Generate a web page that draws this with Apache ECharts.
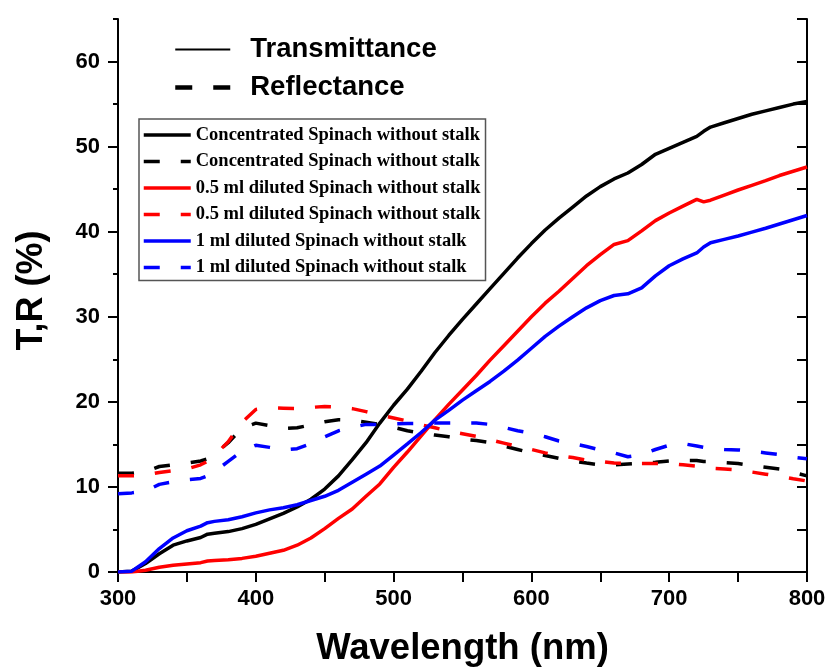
<!DOCTYPE html>
<html>
<head>
<meta charset="utf-8">
<script src="https://cdn.jsdelivr.net/npm/echarts@6/dist/echarts.min.js"></script>
<style>
  html, body { margin: 0; padding: 0; background: #fff; }
  #chart { width: 829px; height: 668px; }
</style>
</head>
<body>
<div id="chart"></div>
<script>
// Wavelength grid (nm)
const wavelength = [300, 310, 320, 330, 340, 350, 360, 365, 370, 380, 390, 400, 410, 420, 430, 440, 450, 460, 470, 480,
  490, 500, 510, 520, 530, 540, 550, 560, 570, 580, 590, 600, 610, 620, 630, 640, 650, 660, 670, 680,
  690, 700, 710, 720, 725, 730, 740, 750, 760, 770, 780, 790, 800];

// Transmittance (%)
const concT = [0, 0.1, 1.0, 2.15, 3.15, 3.65, 4.05, 4.45, 4.55, 4.75, 5.1, 5.6, 6.25, 6.9, 7.65, 8.55, 9.75, 11.3, 13.2, 15.2,
  17.5, 19.6, 21.5, 23.6, 25.8, 27.8, 29.7, 31.5, 33.3, 35.1, 36.9, 38.6, 40.2, 41.6, 42.9, 44.2, 45.3, 46.2, 46.9, 47.9,
  49.1, 49.8, 50.5, 51.2, 51.8, 52.3, 52.8, 53.3, 53.8, 54.2, 54.6, 55.0, 55.3];
const half_mlT = [0, 0, 0.2, 0.55, 0.8, 0.95, 1.1, 1.3, 1.35, 1.45, 1.6, 1.85, 2.2, 2.55, 3.15, 4.0, 5.1, 6.3, 7.4, 8.9,
  10.35, 12.3, 14.1, 16.0, 17.9, 19.7, 21.4, 23.1, 24.9, 26.6, 28.3, 30.0, 31.6, 33.0, 34.5, 36.0, 37.3, 38.5, 38.95, 40.1,
  41.3, 42.2, 43.0, 43.8, 43.5, 43.7, 44.3, 44.9, 45.45, 46.0, 46.6, 47.1, 47.6];
const one_mlT = [0, 0.1, 1.2, 2.75, 4.0, 4.85, 5.4, 5.8, 5.95, 6.15, 6.5, 6.95, 7.3, 7.55, 7.9, 8.4, 8.9, 9.6, 10.55, 11.5,
  12.45, 13.75, 15.05, 16.4, 17.85, 19.0, 20.2, 21.3, 22.4, 23.6, 24.9, 26.3, 27.7, 28.9, 30.0, 31.05, 31.9, 32.5, 32.7, 33.4,
  34.8, 36.0, 36.8, 37.5, 38.2, 38.7, 39.1, 39.5, 39.95, 40.4, 40.9, 41.4, 41.9];

// Reflectance (%)
const concR = [11.6, 11.6, 11.8, 12.4, 12.6, 12.8, 13.05, 13.3, 13.9, 15.2, 16.9, 17.5, 17.2, 16.85, 16.95, 17.3, 17.65, 17.9, 17.85, 17.6,
  17.35, 17.0, 16.6, 16.3, 16.1, 15.9, 15.6, 15.45, 15.2, 14.8, 14.4, 14.0, 13.7, 13.35, 13.05, 12.8, 12.6, 12.6, 12.7, 12.8,
  12.9, 13.05, 13.1, 13.1, 13.0, 13.0, 12.85, 12.75, 12.5, 12.3, 12.1, 11.7, 11.3];
const half_mlR = [11.3, 11.3, 11.4, 11.7, 11.9, 12.1, 12.6, 13.0, 13.7, 15.3, 17.6, 19.1, 19.3, 19.25, 19.2, 19.35, 19.45, 19.4, 19.2, 18.85,
  18.45, 18.1, 17.75, 17.3, 16.95, 16.55, 16.25, 15.95, 15.55, 15.15, 14.75, 14.4, 14.0, 13.7, 13.45, 13.15, 13.0, 12.8, 12.75, 12.75,
  12.75, 12.75, 12.6, 12.45, 12.3, 12.2, 12.1, 12.0, 11.75, 11.5, 11.25, 10.95, 10.7];
const one_mlR = [9.2, 9.3, 9.5, 10.3, 10.6, 10.85, 11.0, 11.3, 11.8, 13.0, 14.2, 14.9, 14.65, 14.35, 14.5, 15.1, 15.9, 16.6, 17.0, 17.35,
  17.35, 17.4, 17.45, 17.45, 17.5, 17.5, 17.5, 17.5, 17.35, 17.0, 16.6, 16.3, 15.9, 15.4, 15.1, 14.75, 14.35, 14.0, 13.55, 13.8,
  14.4, 14.9, 15.1, 14.8, 14.65, 14.55, 14.4, 14.35, 14.2, 14.0, 13.8, 13.5, 13.3];

// Axis tick values
const xMajorTicks = [300, 400, 500, 600, 700, 800];
const yMajorTicks = [0, 10, 20, 30, 40, 50, 60];
const yMinorTicks = [5, 15, 25, 35, 45, 55, 65];

const sampleNames = [
  'Concentrated Spinach without stalk',
  '0.5 ml diluted Spinach without stalk',
  '1 ml diluted Spinach without stalk'
];

const pairs = ys => wavelength.map((w, i) => [w, ys[i]]);
const DASH = [16, 21];
const LINE_W = 3.5;
const SANS = '"Liberation Sans", Arial, sans-serif';
const SERIF = '"Liberation Serif", "Times New Roman", serif';

function curve(name, color, ys, dashed) {
  return {
    name: name,
    type: 'line',
    xAxisIndex: 0,
    yAxisIndex: 0,
    data: pairs(ys),
    symbol: 'none',
    smooth: false,
    itemStyle: { color: color },
    lineStyle: { color: color, width: LINE_W, type: dashed ? DASH : 'solid' }
  };
}

const series = [
  curve(sampleNames[0] + ' (T)', '#000000', concT, false),
  curve(sampleNames[0] + ' (R)', '#000000', concR, true),
  curve(sampleNames[1] + ' (T)', '#ff0000', half_mlT, false),
  curve(sampleNames[1] + ' (R)', '#ff0000', half_mlR, true),
  curve(sampleNames[2] + ' (T)', '#0000ff', one_mlT, false),
  curve(sampleNames[2] + ' (R)', '#0000ff', one_mlR, true),
  // line-style key entries
  { name: 'Transmittance', type: 'line', data: [], symbol: 'none',
    itemStyle: { color: '#000' }, lineStyle: { color: '#000', width: 2, type: 'solid' } },
  { name: 'Reflectance', type: 'line', data: [], symbol: 'none',
    itemStyle: { color: '#000' }, lineStyle: { color: '#000', width: 4.5, type: [17, 21] } }
];

const axisLine = { show: true, lineStyle: { color: '#000', width: 2 } };
const tickLabel = { fontFamily: SANS, fontWeight: 'bold', fontSize: 22, color: '#000' };

const option = {
  animation: false,
  backgroundColor: '#ffffff',
  grid: { left: 118, right: 22, top: 19, bottom: 96, containLabel: false, outerBoundsMode: 'none' },
  legend: [
    {
      data: series.slice(0, 6).map(s => ({ name: s.name, lineStyle: { width: LINE_W } })),
      formatter: n => n.replace(/ \((T|R)\)$/, ''),
      orient: 'vertical',
      left: 139,
      top: 119,
      itemWidth: 47,
      itemHeight: 14,
      itemGap: 6.5,
      padding: [6, 5, 3, 3],
      borderColor: '#555',
      borderWidth: 1.5,
      selectedMode: false,
      itemStyle: { opacity: 0 },
      lineStyle: { width: LINE_W },
      textStyle: { fontFamily: SERIF, fontWeight: 'bold', fontSize: 18.5, color: '#000', lineHeight: 20 }
    },
    {
      data: [
        { name: 'Transmittance', lineStyle: { width: 2 } },
        { name: 'Reflectance', lineStyle: { width: 4.5 } }
      ],
      orient: 'vertical',
      left: 173,
      top: 34,
      itemWidth: 55,
      itemHeight: 14,
      itemGap: 7,
      padding: 0,
      selectedMode: false,
      itemStyle: { opacity: 0 },
      textStyle: { fontFamily: SANS, fontWeight: 'bold', fontSize: 27.5, color: '#000', lineHeight: 31, padding: [0, 0, 0, 15] }
    }
  ],
  xAxis: [
    {
      type: 'value', position: 'bottom', min: 300, max: 800, interval: 100,
      axisLine: axisLine,
      axisTick: { show: true, inside: false, length: 10, lineStyle: { color: '#000', width: 2 } },
      minorTick: { show: true, splitNumber: 2, length: 5, lineStyle: { color: '#000', width: 2 } },
      axisLabel: Object.assign({ margin: 16, customValues: xMajorTicks }, tickLabel),
      splitLine: { show: false },
      name: 'Wavelength (nm)',
      nameLocation: 'middle',
      nameGap: 58,
      nameTextStyle: { fontFamily: SANS, fontWeight: 'bold', fontSize: 36.5, color: '#000' }
    },
    {
      type: 'value', position: 'top', min: 300, max: 800, interval: 50,
      axisLine: axisLine,
      axisTick: { show: true, inside: true, length: 10, lineStyle: { color: '#000', width: 2 } },
      axisLabel: { show: false },
      splitLine: { show: false }
    }
  ],
  yAxis: [
    {
      type: 'value', position: 'left', min: 0, max: 65, interval: 10,
      axisLine: axisLine,
      axisTick: { show: true, inside: false, length: 10, customValues: yMajorTicks, lineStyle: { color: '#000', width: 2 } },
      axisLabel: Object.assign({ margin: 18, customValues: yMajorTicks }, tickLabel),
      splitLine: { show: false },
      name: 'T,R (%)',
      nameLocation: 'middle',
      nameGap: 68,
      nameTextStyle: { fontFamily: SANS, fontWeight: 'bold', fontSize: 36, color: '#000', padding: [0, 0, 0, 10] }
    },
    {
      type: 'value', position: 'left', min: 0, max: 65, interval: 5,
      axisLine: { show: false },
      axisTick: { show: true, inside: false, length: 5, customValues: yMinorTicks, lineStyle: { color: '#000', width: 2 } },
      axisLabel: { show: false },
      splitLine: { show: false }
    },
    {
      type: 'value', position: 'right', min: 0, max: 65, interval: 5,
      axisLine: axisLine,
      axisTick: { show: true, inside: true, length: 10, lineStyle: { color: '#000', width: 2 } },
      axisLabel: { show: false },
      splitLine: { show: false }
    }
  ],
  series: series
};

const chart = echarts.init(document.getElementById('chart'), null, { renderer: 'canvas' });
chart.setOption(option);
</script>
</body>
</html>
